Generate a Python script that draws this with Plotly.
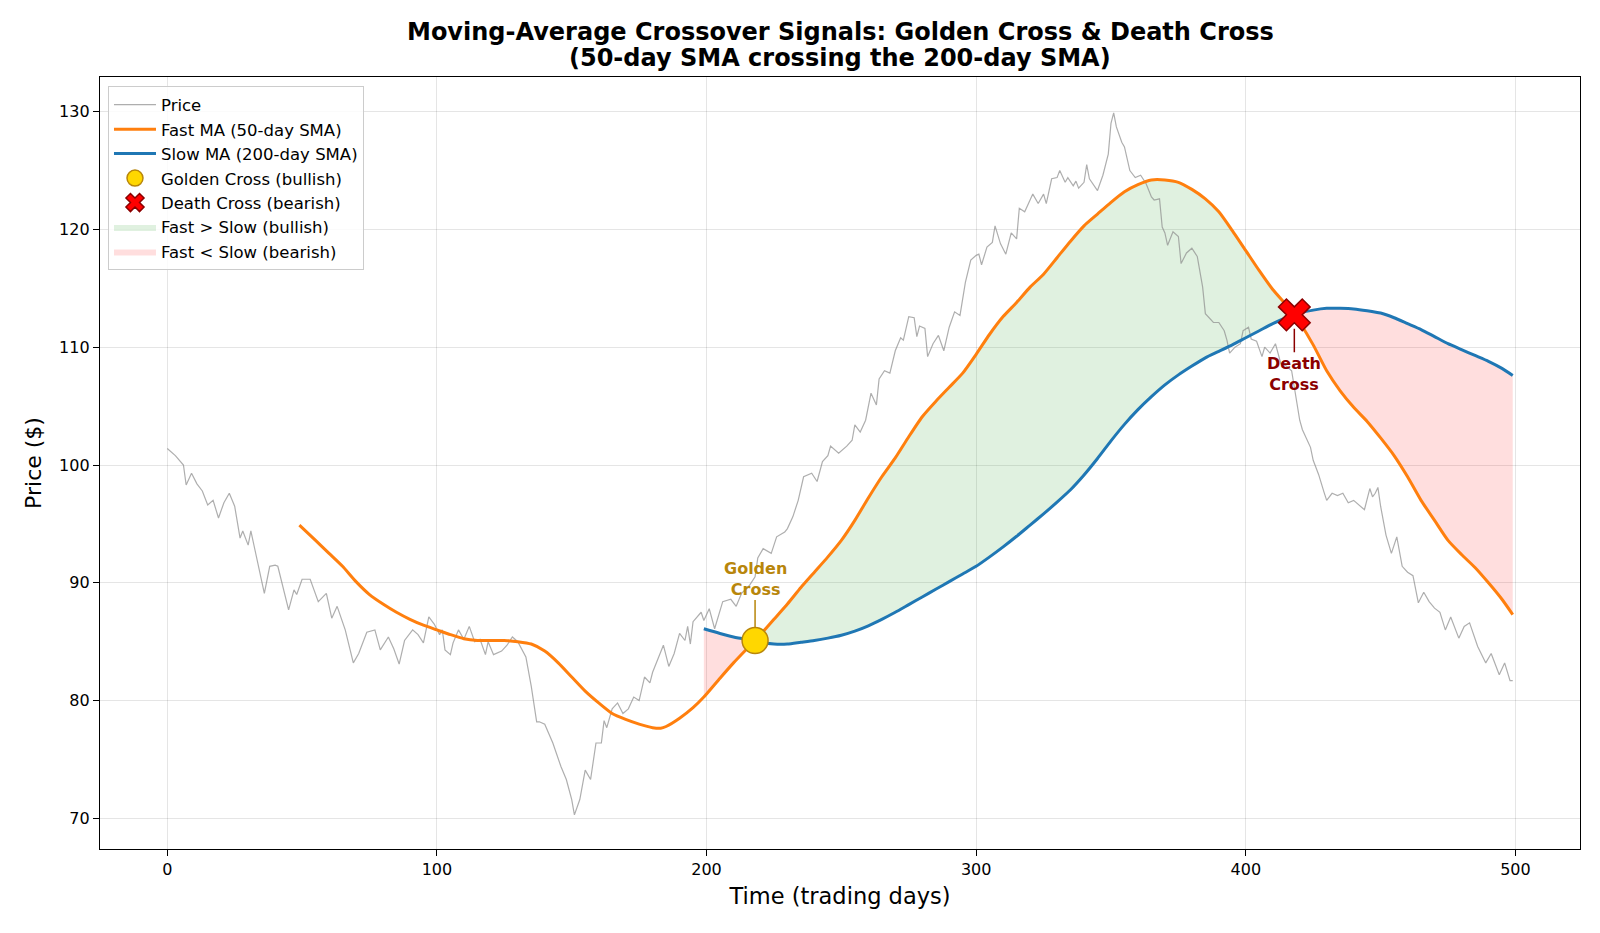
import plotly.graph_objects as go

# ---------------- data ----------------
price_days = [0, 3, 6, 7, 9, 11, 13, 15, 17, 19, 21, 23, 25, 27, 28, 30, 31, 33, 36, 38, 40, 41, 43, 45, 47, 48,
              50, 53, 56, 59, 61, 63, 66, 69, 71, 74, 77, 79, 82, 84, 86, 88, 91, 93, 95, 97, 99, 101, 102, 103,
              105, 106, 108, 110, 112, 114, 116, 118, 119, 121, 124, 126, 128, 130, 133, 135, 137, 138, 140, 143,
              146, 148, 150, 151, 153, 155, 157, 159, 161, 162, 163, 165, 167, 169, 171, 173, 175, 177, 179, 180,
              184, 186, 188, 190, 192, 193, 194, 195, 198, 199, 201, 203, 206, 209, 211, 213, 216, 218, 219, 221,
              224, 226, 229, 230, 232, 234, 236, 239, 241, 243, 245, 246, 249, 252, 254, 255, 257, 259, 261, 263,
              264, 266, 268, 270, 272, 273, 275, 277, 278, 279, 281, 282, 284, 286, 288, 290, 292, 294, 296, 298,
              300, 301, 302, 304, 306, 307, 309, 311, 313, 315, 316, 318, 321, 323, 325, 326, 328, 330, 331, 333,
              334, 336, 337, 338, 340, 341, 342, 345, 347, 349, 350, 351, 352, 354, 355, 357, 359, 361, 363, 365,
              366, 368, 369, 370, 371, 373, 375, 376, 378, 380, 382, 384, 385, 388, 390, 392, 393, 394, 396, 398,
              399, 401, 402, 404, 406, 407, 409, 411, 413, 415, 417, 418, 420, 421, 424, 425, 427, 429, 430, 432,
              434, 436, 438, 440, 442, 444, 446, 447, 448, 449, 450, 452, 454, 456, 458, 460, 462, 464, 466, 468,
              470, 472, 474, 476, 479, 481, 483, 486, 489, 491, 494, 496, 498, 499]
price_vals = [101.4, 100.8, 100.0, 98.3, 99.3, 98.4, 97.8, 96.6, 97.0, 95.5, 96.8, 97.6, 96.5, 93.8, 94.4, 93.2,
              94.4, 92.3, 89.1, 91.4, 91.5, 91.4, 89.5, 87.7, 89.4, 89.0,
              90.3, 90.3, 88.4, 89.1, 87.0, 88.0, 86.0, 83.2, 84.0, 85.8, 86.0, 84.3, 85.4, 84.4, 83.1, 85.1, 86.0,
              85.6, 84.9, 87.1, 86.5, 85.6, 86.0, 84.3,
              83.9, 84.9, 86.0, 85.2, 86.3, 85.0, 85.2, 83.9, 85.0, 83.9, 84.2, 84.7, 85.4, 85.0, 83.7, 81.2, 78.2,
              78.2, 78.0, 76.4,
              74.4, 73.3, 71.6, 70.3, 71.6, 74.1, 73.3, 76.4, 76.4, 78.3, 77.7, 79.3, 79.8, 78.9, 79.3, 80.3, 80.0,
              82.0, 81.5, 82.4,
              84.7, 82.9, 84.0, 85.7, 85.1, 86.3, 84.8, 86.7, 87.5, 86.8, 87.8, 86.1, 88.4, 88.6, 88.0, 89.1, 89.8,
              90.5, 92.1, 92.9,
              92.5, 93.9, 94.3, 94.6, 95.6, 97.0, 99.0, 99.3, 98.6, 100.3, 100.8, 101.6, 101.0, 101.6, 102.1, 103.4,
              102.8, 103.8, 106.1, 105.1,
              107.3, 108.0, 107.8, 109.7, 110.8, 110.6, 112.6, 112.5, 110.9, 111.8, 111.6, 109.2, 110.3, 111.0,
              109.7, 111.7, 113.0, 112.7, 115.5, 117.4,
              117.8, 117.9, 117.0, 118.5, 118.9, 120.3, 118.8, 117.9, 119.7, 119.2, 121.8, 121.5, 123.0, 122.2,
              123.0, 122.2, 124.3, 124.4, 125.0, 124.0,
              124.4, 123.7, 124.1, 123.5, 124.0, 125.5, 124.3, 123.3, 124.6, 126.4, 129.0, 129.9, 128.7, 127.4,
              127.0, 125.0, 124.4, 124.6, 123.9, 122.75,
              122.5, 122.6, 120.2, 119.7, 118.65, 119.8, 119.4, 117.1, 118.0, 118.4, 117.7, 115.1, 112.85, 112.1,
              112.1, 111.4, 110.6, 109.5, 110.0, 110.3,
              111.4, 111.7, 110.7, 110.5, 109.2, 110.0, 109.5, 110.3, 108.6, 108.4, 108.0, 106.6, 103.8, 103.0,
              101.5, 100.4, 99.2, 97.7, 97.0, 97.6,
              97.4, 97.6, 96.8, 97.0, 96.6, 96.2, 98.0, 97.3, 97.6, 98.1, 96.5, 94.05, 92.5, 93.9, 91.4, 90.9, 90.6,
              88.3, 89.2, 88.4,
              87.85, 87.5, 86.0, 87.1, 85.3, 86.3, 86.6, 84.6, 83.2, 84.0, 82.2, 83.2, 81.7, 81.7]

fast_days = [49, 55, 60, 65, 70, 75, 80, 85, 90, 95, 100, 105, 110, 115, 120, 125, 130, 135, 140, 145, 150, 155,
             160, 165, 170, 175, 180, 183, 185, 190, 195, 199, 205, 210, 215, 218, 220, 225, 230, 235, 240, 245,
             250, 255, 260, 265, 270, 275, 280, 285, 290, 295, 300, 305, 310, 315, 320, 325, 330, 335, 340, 345,
             350, 355, 360, 365, 370, 375, 380, 385, 390, 395, 400, 405, 410, 415, 418, 420, 425, 430, 435, 440,
             445, 450, 455, 460, 465, 470, 475, 480, 485, 490, 495, 499]
fast_vals = [94.9, 93.6, 92.5, 91.4, 90.1, 89.0, 88.2, 87.5, 86.9, 86.4, 86.0, 85.6, 85.25, 85.1, 85.1, 85.1,
             85.0, 84.8, 84.2, 83.2, 82.0, 80.8, 79.8, 78.9, 78.4, 78.0, 77.7, 77.65, 77.8, 78.5, 79.4, 80.3,
             81.9, 83.2, 84.4, 85.1, 85.6, 86.9, 88.2, 89.6, 90.9, 92.2, 93.6, 95.3, 97.2, 99.0, 100.6, 102.4,
             104.1, 105.4, 106.6, 107.8, 109.4, 111.1, 112.6, 113.8, 115.1, 116.2, 117.6, 119.0, 120.3, 121.3,
             122.3, 123.2, 123.8, 124.2, 124.2, 124.0, 123.4, 122.6, 121.5, 119.9, 118.2, 116.5, 114.9, 113.6,
             112.75, 112.1, 110.2, 108.0, 106.3, 104.9, 103.7, 102.3, 100.8, 99.0, 97.0, 95.3, 93.6, 92.4, 91.3,
             90.0, 88.6, 87.3]

slow_days = [199, 205, 210, 215, 218, 220, 225, 230, 235, 240, 245, 250, 255, 260, 265, 270, 275, 280, 285, 290,
             295, 300, 305, 310, 315, 320, 325, 330, 335, 340, 345, 350, 355, 360, 365, 370, 375, 380, 385, 390,
             395, 400, 405, 410, 415, 418, 420, 425, 430, 435, 440, 445, 450, 455, 460, 465, 470, 475, 480, 485,
             490, 495, 499]
slow_vals = [86.1, 85.7, 85.4, 85.2, 85.1, 84.95, 84.8, 84.8, 84.95, 85.1, 85.3, 85.55, 85.9, 86.35, 86.9, 87.5,
             88.15, 88.8, 89.45, 90.1, 90.75, 91.4, 92.2, 93.05, 93.95, 94.9, 95.85, 96.85, 97.9, 99.15, 100.55,
             102.05, 103.45, 104.7, 105.8, 106.8, 107.65, 108.4, 109.1, 109.65, 110.2, 110.8, 111.4, 112.0, 112.5,
             112.75, 112.9, 113.15, 113.3, 113.3, 113.25, 113.1, 112.9, 112.5, 112.0, 111.5, 110.9, 110.3, 109.8,
             109.3, 108.8, 108.2, 107.6]

golden_day = [218]
golden_price = [85.1]
death_day = [418]
death_price = [112.75]

x_ticks = [0, 100, 200, 300, 400, 500]
y_ticks = [70, 80, 90, 100, 110, 120, 130]

# ---------------- helpers to build fill polygons ----------------
fast_map = dict(zip(fast_days, fast_vals))
slow_map = dict(zip(slow_days, slow_vals))


def band(d0, d1):
    ds = [d for d in slow_days if d0 <= d <= d1]
    xs = ds + ds[::-1]
    ys = [fast_map[d] for d in ds] + [slow_map[d] for d in ds[::-1]]
    return xs, ys


FONT = "DejaVu Sans"
fig = go.Figure()

# fills
segments = [(199, golden_day[0], "bear", True), (golden_day[0], death_day[0], "bull", True),
            (death_day[0], slow_days[-1], "bear", False)]
for d0, d1, kind, show in segments:
    xs, ys = band(d0, d1)
    if kind == "bull":
        col = "rgba(44,160,44,0.15)"
        name = "Fast > Slow (bullish)"
        rank = 6
    else:
        col = "rgba(255,0,0,0.13)"
        name = "Fast < Slow (bearish)"
        rank = 7
    fig.add_trace(go.Scatter(
        x=xs, y=ys, fill="toself", fillcolor=col, mode="lines",
        line=dict(width=0, color=col), name=name, legendgroup=name, legendrank=rank,
        showlegend=show, hoverinfo="skip"))

fig.add_trace(go.Scatter(x=price_days, y=price_vals, mode="lines", name="Price",
                         line=dict(color="rgba(140,140,140,0.7)", width=1.2),
                         legendgroup="p", legendrank=1))
fig.add_trace(go.Scatter(x=fast_days, y=fast_vals, mode="lines", name="Fast MA (50-day SMA)",
                         line=dict(color="#ff7f0e", width=3, shape="spline", smoothing=0.6),
                         legendgroup="f", legendrank=2))
fig.add_trace(go.Scatter(x=slow_days, y=slow_vals, mode="lines", name="Slow MA (200-day SMA)",
                         line=dict(color="#1f77b4", width=3, shape="spline", smoothing=0.6),
                         legendgroup="s", legendrank=3))
fig.add_trace(go.Scatter(x=golden_day, y=golden_price, mode="markers", name="Golden Cross (bullish)",
                         marker=dict(symbol="circle", size=26, color="#ffd700",
                                     line=dict(color="#b8860b", width=1.5)),
                         legendgroup="g", legendrank=4))
fig.add_trace(go.Scatter(x=death_day, y=death_price, mode="markers", name="Death Cross (bearish)",
                         marker=dict(symbol="x", size=28, color="#ff0000",
                                     line=dict(color="#8b0000", width=1.5)),
                         legendgroup="d", legendrank=5))

annotations = [
    dict(text="<b>Moving-Average Crossover Signals: Golden Cross & Death Cross</b>", x=0.5, y=1.0589,
         xref="paper", yref="paper", showarrow=False, font=dict(family=FONT, size=24, color="black"),
         xanchor="center", yanchor="middle"),
    dict(text="<b>(50-day SMA crossing the 200-day SMA)</b>", x=0.5, y=1.0252,
         xref="paper", yref="paper", showarrow=False, font=dict(family=FONT, size=24, color="black"),
         xanchor="center", yanchor="middle"),
    dict(text="<b>Golden<br>Cross</b>", x=golden_day[0], y=golden_price[0], xref="x", yref="y",
         ax=0, ay=-62, showarrow=True, arrowhead=0, arrowwidth=1.5, arrowcolor="#b8860b",
         standoff=13, font=dict(family=FONT, size=16, color="#b8860b")),
    dict(text="<b>Death<br>Cross</b>", x=death_day[0], y=death_price[0], xref="x", yref="y",
         ax=0, ay=59, showarrow=True, arrowhead=0, arrowwidth=1.5, arrowcolor="#8b0000",
         standoff=14, font=dict(family=FONT, size=16, color="#8b0000")),
]

fig.update_layout(
    width=1600, height=933,
    margin=dict(l=100, r=20, t=77, b=84),
    paper_bgcolor="white", plot_bgcolor="white",
    font=dict(family=FONT, size=16, color="black"),
    annotations=annotations,
    showlegend=True,
    legend=dict(x=0.0054, y=0.9877, xanchor="left", yanchor="top",
                bgcolor="rgba(255,255,255,0.85)", bordercolor="#cccccc", borderwidth=1,
                font=dict(family=FONT, size=16.5), traceorder="normal", itemwidth=42,
                tracegroupgap=5),
    xaxis=dict(range=[-24.95, 523.95], tickvals=x_ticks, ticks="outside", ticklen=6,
               tickcolor="black", showgrid=True, gridcolor="rgba(0,0,0,0.1)", gridwidth=1,
               showline=True, linecolor="black", linewidth=1.3, mirror=True, zeroline=False,
               tickfont=dict(family=FONT, size=16),
               title=dict(text="Time (trading days)", font=dict(family=FONT, size=22.5), standoff=9)),
    yaxis=dict(range=[67.40, 132.94], tickvals=y_ticks, ticks="outside", ticklen=6,
               tickcolor="black", showgrid=True, gridcolor="rgba(0,0,0,0.1)", gridwidth=1,
               showline=True, linecolor="black", linewidth=1.3, mirror=True, zeroline=False,
               tickfont=dict(family=FONT, size=16),
               title=dict(text="Price ($)", font=dict(family=FONT, size=22), standoff=11)),
)

fig.write_html("out.html")
